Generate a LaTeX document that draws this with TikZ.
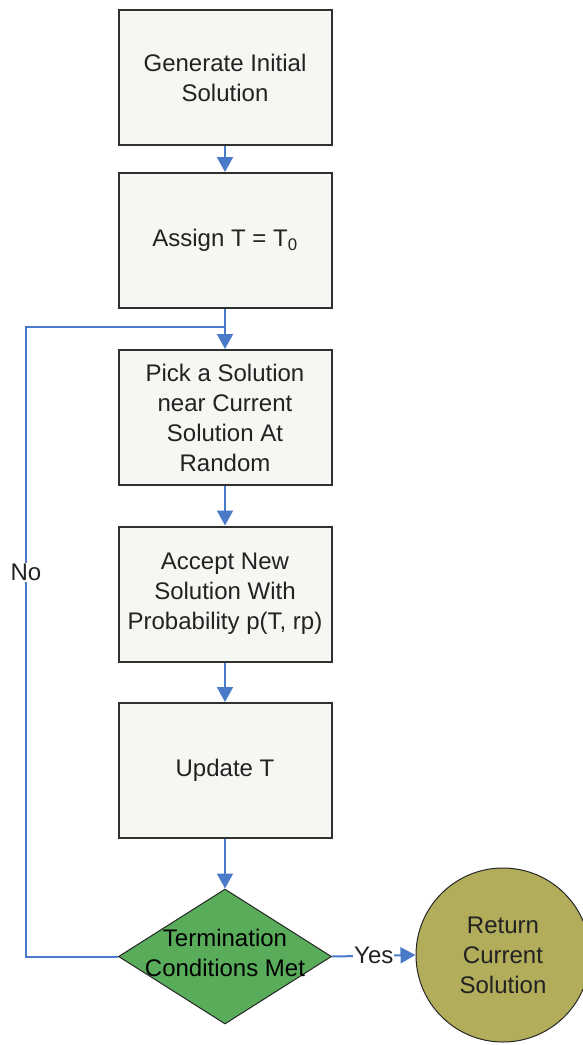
\documentclass[tikz,border=0pt]{standalone}
\usepackage{fontspec}
\setmainfont{Liberation Sans}
\usetikzlibrary{shapes.geometric,arrows.meta}

\definecolor{boxfill}{HTML}{F5F7F3}
\definecolor{boxline}{HTML}{303030}
\definecolor{flow}{HTML}{4A7BC8}
\definecolor{decfill}{HTML}{58AC5A}
\definecolor{endfill}{HTML}{B1AD5B}
\definecolor{ink}{HTML}{222222}

\tikzset{
  stepbox/.style={draw=boxline, line width=2pt, fill=boxfill, rectangle,
    minimum width=213pt, minimum height=135pt, inner sep=0pt, align=center,
    text=ink, font=\fontsize{24}{30}\selectfont},
  decbox/.style={draw=black!85, line width=1pt, fill=decfill, diamond,
    minimum width=213pt, minimum height=135pt, inner sep=0pt},
  endbox/.style={draw=black!85, line width=1pt, fill=endfill, circle,
    minimum size=174pt, inner sep=0pt, align=center, text=ink,
    font=\fontsize{24}{30}\selectfont},
  flowline/.style={draw=flow, line width=2pt},
  flowarrow/.style={flowline, -{Triangle[width=16pt,length=15pt]}},
  lbl/.style={fill=white, inner sep=1pt, text=ink, font=\fontsize{24}{28}\selectfont}
}

\begin{document}
\begin{tikzpicture}[x=1pt, y=-1pt]
  \useasboundingbox (0,0) rectangle (583,1045);
  \clip (0,0) rectangle (583,1045);

  % process steps
  \node[stepbox] (init)   at (225,77.5)  {Generate Initial\\Solution};
  \node[stepbox] (assign) at (225,240.5) {Assign T = T\textsubscript{0}};
  \node[stepbox] (pick)   at (225,417.5) {Pick a Solution\\near Current\\Solution At\\Random};
  \node[stepbox] (accept) at (225,594)   {Accept New\\Solution With\\Probability p(T, rp)};
  \node[stepbox] (update) at (225,770.5) {Update T};

  % decision and end
  \node[decbox] (check) at (225,956.5) {};
  \node[align=center, text=black, font=\fontsize{24}{30}\selectfont, inner sep=0pt]
    (checktext) at (225,953) {Termination\\Conditions Met};
  \node[endbox] (done) at (503,955) {Return\\Current\\Solution};

  % loop back when not finished
  \coordinate (loopL) at (26,956.5);
  \coordinate (loopT) at (26,327);
  \coordinate (loopJ) at (225,327);
  \draw[flowline] (check.west) -- (loopL) -- node[lbl, pos=0.61] (no) {No} (loopT) -- (loopJ);

  % main flow
  \draw[flowarrow] (init) -- (assign);
  \draw[flowarrow] (assign) -- (pick);
  \draw[flowarrow] (pick) -- (accept);
  \draw[flowarrow] (accept) -- (update);
  \draw[flowarrow] (update) -- (check);
  \draw[flowarrow] (check.east) -- node[lbl] (yes) {Yes} (done.west);
\end{tikzpicture}
\end{document}
